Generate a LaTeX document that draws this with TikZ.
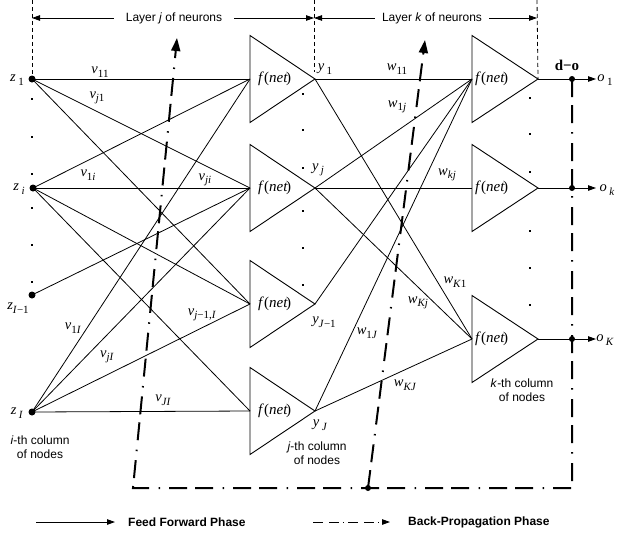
\documentclass[tikz,border=0pt]{standalone}
\usepackage{fontspec}
\setmainfont{Liberation Serif}
\setsansfont{Liberation Sans}
\usetikzlibrary{arrows.meta}

% lowered subscript in the serif labels
\newcommand\sbs[1]{\raisebox{-0.55ex}{\fontsize{11}{11}\selectfont #1}}

\begin{document}
\begin{tikzpicture}[x=1pt,y=-1pt,
  conn/.style={line width=0.8pt},
  neuron/.style={line width=0.9pt},
  lbl/.style={font=\fontsize{14.5}{14.5}\selectfont, inner sep=0pt},
  fnet/.style={font=\fontsize{15}{15}\selectfont, inner sep=0pt, anchor=west},
  sanslbl/.style={font=\sffamily\fontsize{12}{14}\selectfont, inner sep=0pt, align=center},
  legendtxt/.style={font=\sffamily\bfseries\fontsize{12}{14}\selectfont, inner sep=0pt, anchor=west},
  layerline/.style={line width=0.8pt, dash pattern=on 4pt off 3pt},
  dimarrow/.style={line width=0.8pt, -{Triangle[length=8pt,width=5.5pt]}},
  ffarrow/.style={line width=0.9pt, -{Triangle[length=8pt,width=5.5pt]}},
  bp/.style={line width=2pt, dash pattern=on 18pt off 8pt on 18pt off 9pt on 1.5pt off 9.5pt},
  bptip/.style={-{Triangle[length=13pt,width=9pt]}},
  bplegend/.style={line width=0.9pt, dash pattern=on 10pt off 6pt on 10pt off 4pt on 1pt off 4pt,
                   -{Triangle[length=8pt,width=5.5pt]}},
  bigdot/.style={circle, fill, inner sep=0pt, minimum size=7pt},
  smalldot/.style={circle, fill, inner sep=0pt, minimum size=6pt},
]
\useasboundingbox (0,0) rectangle (617,535);

% ---------- input units ----------
\coordinate (z1)  at (32,79);
\coordinate (zi)  at (33,188);
\coordinate (zI1) at (32,295);
\coordinate (zI)  at (32,412);
\foreach \p in {z1,zi,zI1,zI} \node[bigdot] at (\p) {};
\node[lbl] (lz1)  at (17,80)  {\textit{z}\,\sbs{1}};
\node[lbl] (lzi)  at (19,189) {\textit{z}\,\sbs{\textit{i}}};
\node[lbl] (lzI1) at (18,308) {\textit{z}\sbs{\textit{I}−1}};
\node[lbl] (lzI)  at (17,413) {\textit{z}\,\sbs{\textit{I}}};

% ---------- hidden neurons (layer j) ----------
\foreach \n/\c in {1/79,2/188,3/304,4/411}{
  \coordinate (h\n in)  at (250,\c);
  \coordinate (h\n out) at (315,\c);
  \draw[neuron] (250,{\c-43.5}) -- (h\n out) -- (250,{\c+43.5}) -- cycle;
  \node[fnet] (hf\n) at (258,\c) {\textit{f}(\textit{net}\kern-1.5pt)};
}

% ---------- output neurons (layer k) ----------
\foreach \n/\c in {1/79,2/188,3/339}{
  \coordinate (o\n in)  at (472,\c);
  \coordinate (o\n out) at (538,\c);
  \coordinate (d\n)     at (572,\c);
  \coordinate (t\n)     at (596,\c);
  \draw[neuron] (472,{\c-43.5}) -- (o\n out) -- (472,{\c+43.5}) -- cycle;
  \node[fnet] (of\n) at (475,\c) {\textit{f}(\textit{net}\kern-1.5pt)};
  \draw[ffarrow] (o\n out) -- (t\n);
}

% ---------- weights v ----------
\foreach \a/\b in {z1/h1,z1/h2,z1/h3,zi/h1,zi/h2,zi/h3,zi/h4,zI1/h2,zI/h1,zI/h2,zI/h3,zI/h4}
  \draw[conn] (\a) -- (\b in);

% ---------- weights w ----------
\foreach \a/\b in {h1/o1,h1/o3,h2/o1,h2/o2,h2/o3,h3/o1,h4/o1,h4/o3}
  \draw[conn] (\a out) -- (\b in);

% ---------- ellipsis dots ----------
\foreach \x/\ys in {32/{99,137,174,208,245,282},303/{94,130,168,211,248,285},530/{98,134,172,231,268,305}}
  \foreach \y in \ys \fill (\x-1.3,\y-1.3) rectangle (\x+1.3,\y+1.3);

% ---------- weight labels ----------
\node[lbl] (lv11)  at (100,72)  {\textit{v}\sbs{11}};
\node[lbl] (lvj1)  at (97,98)   {\textit{v}\sbs{\textit{j}1}};
\node[lbl] (lv1i)  at (88,175)  {\textit{v}\sbs{1\textit{i}}};
\node[lbl] (lvji)  at (205,180) {\textit{v}\sbs{\textit{ji}}};
\node[lbl] (lv1I)  at (73,328)  {\textit{v}\sbs{1\textit{I}}};
\node[lbl] (lvjI)  at (107,357) {\textit{v}\sbs{\textit{jI}}};
\node[lbl] (lvjm)  at (202,315) {\textit{v}\sbs{\textit{j}−1,\textit{I}}};
\node[lbl] (lvJI)  at (163,400) {\textit{v}\sbs{\textit{JI}}};

\node[lbl] (ly1)  at (325,69)  {\textit{y}\,\sbs{1}};
\node[lbl] (lyj)  at (318,170) {\textit{y}\,\sbs{\textit{j}}};
\node[lbl] (lyJ1) at (324,322) {\textit{y}\sbs{\textit{J}−1}};
\node[lbl] (lyJ)  at (320,425) {\textit{y}\,\sbs{\textit{J}}};

\node[lbl] (lw11) at (397,69)  {\textit{w}\sbs{11}};
\node[lbl] (lw1j) at (397,107) {\textit{w}\sbs{1\textit{j}}};
\node[lbl] (lwkj) at (447,175) {\textit{w}\sbs{\textit{kj}}};
\node[lbl] (lwK1) at (455,282) {\textit{w}\sbs{\textit{K}1}};
\node[lbl] (lwKj) at (418,303) {\textit{w}\sbs{\textit{Kj}}};
\node[lbl] (lw1J) at (367,333) {\textit{w}\sbs{1\textit{J}}};
\node[lbl] (lwKJ) at (405,385) {\textit{w}\sbs{\textit{KJ}}};

\node[lbl] (lo1) at (605,80)  {\textit{o}\,\sbs{1}};
\node[lbl] (lok) at (607,190) {\textit{o}\,\sbs{\textit{k}}};
\node[lbl] (loK) at (605,340) {\textit{o}\,\sbs{\textit{K}}};
\node[lbl, font=\fontsize{15}{15}\selectfont\bfseries] (ldo) at (567,65) {d−o};

% ---------- column captions ----------
\node[sanslbl] (ci) at (40,447)  {\textit{i}-th column\\of nodes};
\node[sanslbl] (cj) at (317,453) {\textit{j}-th column\\of nodes};
\node[sanslbl] (ck) at (522,390) {\textit{k}-th column\\of nodes};

% ---------- layer extents ----------
\coordinate (Lj0) at (32,18);
\coordinate (Lj1) at (314,18);
\coordinate (Lk1) at (537,18);
\draw[layerline] (32,0) -- (z1);
\draw[layerline] (314,0) -- (314,72);
\draw[layerline] (537,0) -- (o1out);
\node[sanslbl, inner xsep=12pt] (Lj) at (174,18) {Layer \textit{j} of neurons};
\node[sanslbl, inner xsep=7pt]  (Lk) at (432,18) {Layer \textit{k} of neurons};
\draw[dimarrow] (Lj.west) -- (Lj0);
\draw[dimarrow] (Lj.east) -- (Lj1);
\draw[dimarrow] (Lk.west) -- (Lj1);
\draw[dimarrow] (Lk.east) -- (Lk1);

% ---------- back-propagation path ----------
\coordinate (bpR) at (572,488);
\coordinate (bpL) at (133,488);
\coordinate (bpM) at (368,488);
\coordinate (bpT1) at (177,38);
\coordinate (bpT2) at (425,40);
\draw[bp, bptip] (d1) -- (bpR) -- (bpL) -- (bpT1);
\draw[bp, bptip] (bpM) -- (bpT2);
\foreach \p in {d1,d2,d3,bpM} \node[smalldot] at (\p) {};

% ---------- legend ----------
\coordinate (lgA) at (36,522);
\coordinate (lgB) at (115,522);
\coordinate (lgC) at (313,522);
\coordinate (lgD) at (390,522);
\draw[ffarrow] (lgA) -- (lgB);
\node[legendtxt] (lgF) at (128,522) {Feed Forward Phase};
\draw[bplegend] (lgC) -- (lgD);
\node[legendtxt] (lgBP) at (408,522) {Back-Propagation Phase};
\end{tikzpicture}
\end{document}
